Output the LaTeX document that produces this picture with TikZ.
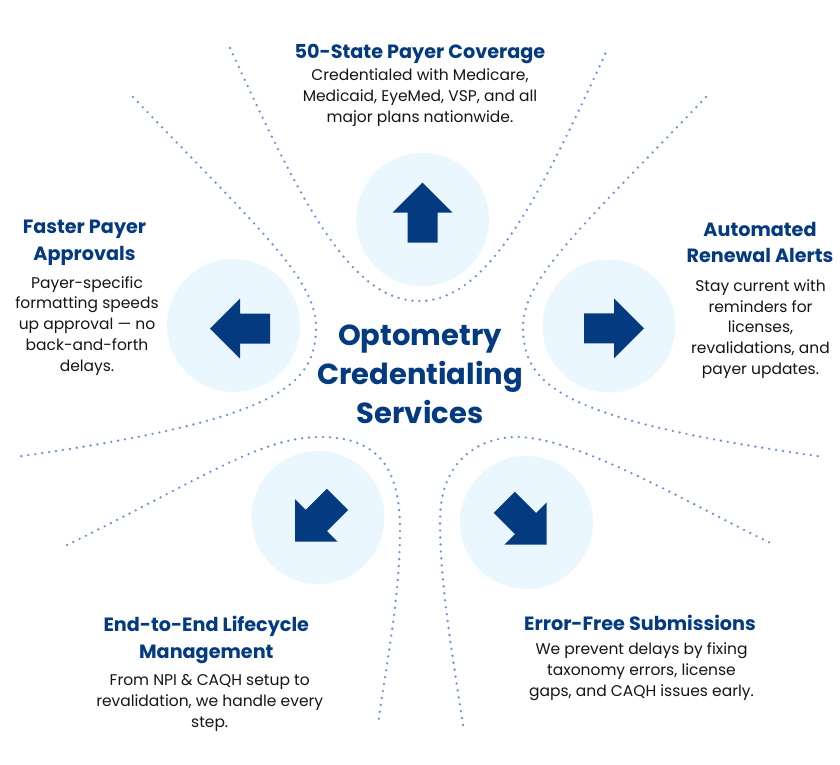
\documentclass[tikz,border=0pt]{standalone}
\usepackage{fontspec}
\setmainfont{Poppins}
\definecolor{navy}{HTML}{043A80}
\definecolor{iconbg}{HTML}{EBF7FE}
\definecolor{dotblue}{HTML}{6C8FE6}
\definecolor{bodytext}{HTML}{151515}

\begin{document}
\begin{tikzpicture}[x=1pt, y=-1pt,
    dots/.style={dotblue, line width=2.6pt, line cap=round,
        dash pattern=on 0pt off 7pt},
    iconcircle/.style={circle, fill=iconbg, minimum size=133pt, inner sep=0pt},
    heading/.style={anchor=base, align=center, text=navy,
        font={\fontsize{19.2}{26.7}\selectfont\bfseries}},
    body/.style={anchor=base, align=center, text=bodytext,
        font={\fontsize{15.5}{20.8}\selectfont}}]
    \fill[white] (0,0) rectangle (840,764);
    \useasboundingbox (0,0) rectangle (840,764);
    % dotted separators
    \draw[dots] (230,48) .. controls (300,200) and (350,301) .. (419,301)
        .. controls (488,301) and (538,200) .. (608,48);
    \draw[dots] (133,97) .. controls (260,230) and (318,280) .. (316,330)
        .. controls (314,385) and (280,420) .. (15,457);
    \draw[dots] (706,97) .. controls (579,230) and (521,280) .. (523,330)
        .. controls (525,385) and (559,420) .. (824,457);
    \draw[dots] (67,545) .. controls (200,480) and (260,437) .. (320,437)
        .. controls (380,437) and (400,470) .. (400,530)
        .. controls (400,600) and (385,670) .. (378,725);
    \draw[dots] (463,725) .. controls (450,640) and (440,580) .. (440,520)
        .. controls (440,460) and (480,437) .. (517,437)
        .. controls (580,437) and (700,510) .. (775,545);
    % icon circles
    \node[iconcircle] (cTop) at (422.5,219.5) {};
    \node[iconcircle] (cLeft) at (233.5,325.5) {};
    \node[iconcircle] (cRight) at (609,326) {};
    \node[iconcircle] (cBL) at (318,517.5) {};
    \node[iconcircle] (cBR) at (526.5,522.5) {};
    \foreach \c/\dx/\dy/\ang in {cTop/0/-7/90, cLeft/6.5/3/180, cRight/5/2.3/0,
        cBL/-1.7/3/225, cBR/-1/1/315}
        \fill[navy, shift={(\c)}, shift={(\dx,\dy)}, rotate=\ang]
            (-30,-15) -- (0,-15) -- (0,-30) -- (30,0) -- (0,30) -- (0,15)
            -- (-30,15) -- cycle;
    % centre title (placed at its last baseline)
    \node[anchor=base, align=center, text=navy,
        font={\fontsize{29}{39}\selectfont\bfseries}] (title) at (420,423)
        {Optometry\\Credentialing\\Services};
    % texts
    \node[heading] (hTop) at (420,58) {50-State Payer Coverage};
    \node[body] (bTop) at (420,122.5)
        {Credentialed with Medicare,\\Medicaid, EyeMed, VSP, and all\\major plans nationwide.};
    \node[heading] (hLeft) at (84.5,260) {Faster Payer\\Approvals};
    \node[body] (bLeft) at (87,371.3)
        {Payer-specific\\formatting speeds\\up approval — no\\back-and-forth\\delays.};
    \node[heading] (hRight) at (760,262.7) {Automated\\Renewal Alerts};
    \node[body] (bRight) at (760.5,374.5)
        {Stay current with\\reminders for\\licenses,\\revalidations, and\\payer updates.};
    \node[heading] (hBL) at (206.3,658.4) {End-to-End Lifecycle\\Management};
    \node[body] (bBL) at (209.7,727)
        {From NPI \& CAQH setup to\\revalidation, we handle every\\step.};
    \node[heading] (hBR) at (640,630.7) {Error-Free Submissions};
    \node[body] (bBR) at (641.5,696.3)
        {We prevent delays by fixing\\taxonomy errors, license\\gaps, and CAQH issues early.};
\end{tikzpicture}
\end{document}
